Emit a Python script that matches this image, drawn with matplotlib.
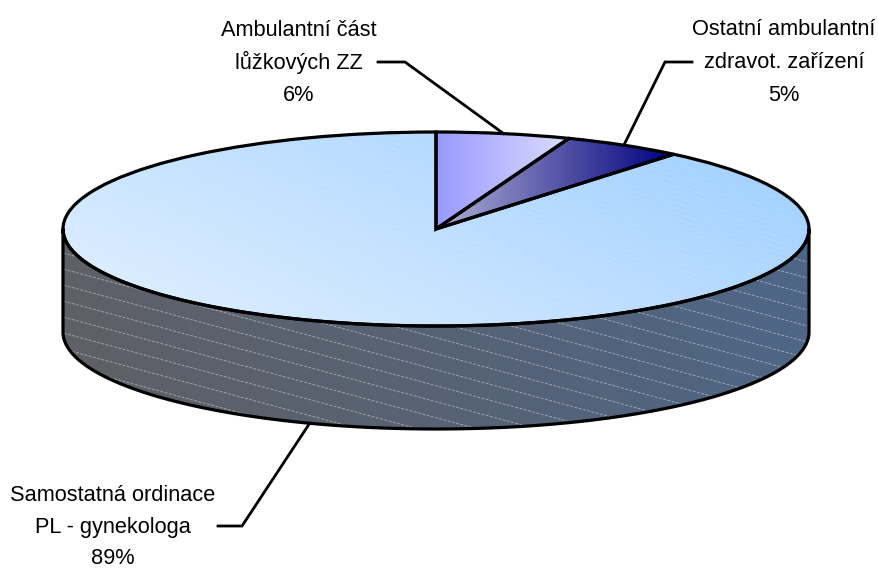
import numpy as np
import matplotlib
matplotlib.use("Agg")
import matplotlib.pyplot as plt
from matplotlib.patches import Polygon
from matplotlib.transforms import Affine2D
from matplotlib.colors import LinearSegmentedColormap

labels = ["Ambulantní část\nlůžkových ZZ", "Ostatní ambulantní\nzdravot. zařízení", "Samostatná ordinace\nPL - gynekologa"]
values = [5.8, 5.2, 89.0]

plt.rcParams["font.family"] = ["Liberation Sans", "DejaVu Sans"]
FS = 15.7

W, H = 879, 569
CX, CY, RX, RY, DEPTH = 436, 229, 373, 97, 103

fig = plt.figure(figsize=(W/100, H/100), dpi=100)
ax = fig.add_axes([0, 0, 1, 1])

wedges, _ = ax.pie(values, startangle=90, counterclock=False, radius=1,
                   colors=["none"]*3, wedgeprops=dict(edgecolor="black", linewidth=2.3, zorder=5))
ax.set_aspect("auto")
ax.set_xlim(0, W)
ax.set_ylim(H, 0)
ax.axis("off")
squash = Affine2D().scale(RX, -RY).translate(CX, CY) + ax.transData
for w in wedges:
    w.set_transform(squash)
    w.set_clip_on(False)

def grad(cmap, t, extent, clip, zorder):
    im = ax.imshow(t, cmap=cmap, vmin=0, vmax=1, extent=extent, aspect="auto", zorder=zorder, interpolation="bilinear")
    im.set_clip_path(clip.get_path(), clip.get_transform())
    return im

gx, gy = np.meshgrid(np.linspace(0, 1, 300), np.linspace(0, 1, 200))
ext = (CX-RX, CX+RX, CY+RY, CY-RY)

# top surface of the large slice
cm_top = LinearSegmentedColormap.from_list("top", ["#E0EFFF", "#A4D2FF"])
t_top = np.clip(0.78*gx + 0.42*(1-gy) - 0.05, 0, 1)
grad(cm_top, t_top, ext, wedges[2], 2)

# small slices: horizontal gradients
def angle_x(frac):
    return CX + RX*np.sin(2*np.pi*frac)
f = np.cumsum(values)/np.sum(values)
cm1 = LinearSegmentedColormap.from_list("a", ["#9999FF", "#DCDCFF"])
cm2 = LinearSegmentedColormap.from_list("b", ["#B0B0D4", "#000080"])
g = np.linspace(0, 1, 200)[None, :]
grad(cm1, g, (CX, angle_x(f[0]), CY, CY-RY), wedges[0], 3)
grad(cm2, g, (CX, angle_x(f[1]), CY, CY-RY), wedges[1], 3)

# side wall
th = np.linspace(0, np.pi, 300)
ex, ey = CX + RX*np.cos(th), CY + RY*np.sin(th)
side_xy = np.vstack([np.c_[ex, ey + DEPTH], np.c_[ex[::-1], ey[::-1]]])
side = Polygon(side_xy, closed=True, facecolor="none", edgecolor="black", linewidth=2.3, zorder=4, joinstyle="round")
ax.add_patch(side)
cm_side = LinearSegmentedColormap.from_list("side", ["#5F6066", "#4E6686"])
grad(cm_side, np.clip(gx*1.0 + 0.12*(1-gy) - 0.06, 0, 1), (CX-RX, CX+RX, CY+RY+DEPTH, CY), side, 1.5)

# faint hatch lines
SL = 0.27
xs = np.array([0, W])
for c in np.arange(-260, 560, 16):
    l, = ax.plot(xs, c + SL*xs, color="white", lw=0.7, ls=(0, (3, 1.5)), alpha=0.42, zorder=2.5)
    l.set_clip_path(side)
for c in np.arange(-260, 420, 5.5):
    l, = ax.plot(xs, c + SL*xs, color="white", lw=0.7, ls=(0, (3, 1.5)), alpha=0.14, zorder=2.5)
    l.set_clip_path(wedges[2].get_path(), wedges[2].get_transform())

# labels and leader lines
mid = (np.r_[0, f[:-1]] + f)/2*2*np.pi
anchors = [(CX + RX*np.sin(a), CY - RY*np.cos(a) + (DEPTH if np.cos(a) < 0 else 0)) for a in mid]
elbows = [[(405, 62), (378, 62)], [(665, 62), (692, 62)], [(242, 526), (218, 526)]]
text_x = [299, 784, 113]
baselines = [[36, 69, 101], [35, 68, 101], [501, 533, 564]]
for lab, v, an, el, tx, bl in zip(labels, values, anchors, elbows, text_x, baselines):
    pts = np.array([an] + el)
    ax.plot(pts[:, 0], pts[:, 1], color="black", lw=2.0, zorder=6, solid_joinstyle="miter")
    lines = lab.split("\n") + [f"{v:.0f}%"]
    for s, b in zip(lines, bl):
        ax.text(tx, b, s, ha="center", va="baseline", fontsize=FS, color="black", zorder=7)

fig.savefig("out.png", dpi=100, facecolor="white")
